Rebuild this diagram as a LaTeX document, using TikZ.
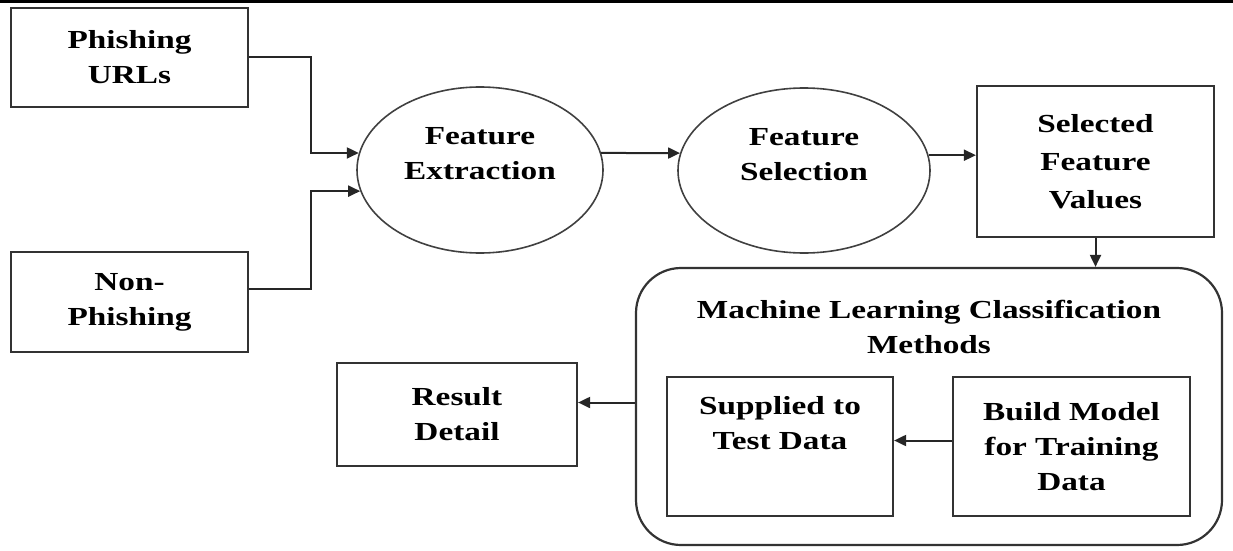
\documentclass[tikz,border=0pt]{standalone}
\usepackage{fontspec}
\setmainfont{Liberation Serif}[FakeStretch=1.28]
\usetikzlibrary{arrows.meta, shapes.geometric}

\begin{document}
\begin{tikzpicture}[
  x=1pt, y=1pt,
  every node/.style={font=\fontsize{26}{35}\selectfont\bfseries, align=center},
  box/.style={draw=black!80, line width=2.2pt, rectangle, inner sep=0pt},
  oval/.style={draw=black!75, line width=1.6pt, ellipse, inner sep=0pt, text depth=33pt},
  arr/.style={-{Triangle[length=12pt, width=11pt]}, line width=2pt, draw=black!85},
]
  \useasboundingbox (0,0) rectangle (1233,550);
  \fill[black] (0,547) rectangle (1233,550);

  % inputs
  \node[box, minimum width=237, minimum height=99] (phish) at (129.5, 492.5) {Phishing\\URLs};
  \node[box, minimum width=237, minimum height=100] (nonphish) at (129.5, 248) {Non-\\Phishing};

  % feature stages
  \node[oval, minimum width=246, minimum height=166] (extract) at (480, 380) {Feature\\Extraction};
  \node[oval, minimum width=252, minimum height=165] (select) at (804, 379.5) {Feature\\Selection};
  \node[box, minimum width=237, minimum height=151,
        font=\fontsize{26}{38}\selectfont\bfseries] (values) at (1095.5, 388.5) {Selected\\Feature\\Values};

  % classification block
  \node[box, rounded corners=45pt, minimum width=586, minimum height=277] (ml) at (929, 143.5) {};
  \node[anchor=north, inner sep=0pt] (mltitle) at (929, 250) {Machine Learning Classification\\Methods};
  \node[box, minimum width=226, minimum height=139, text height=72pt, text depth=67pt] (supplied) at (780, 103.5) {Supplied to\\Test Data};
  \node[box, minimum width=237, minimum height=139] (build) at (1071.5, 103.5) {Build Model\\for Training\\Data};

  \node[box, minimum width=240, minimum height=103] (result) at (457, 135.5) {Result\\Detail};

  % connectors
  \draw[arr] (phish.east) -- ++(62,0) |- (extract.172);
  \draw[arr] ([yshift=13]nonphish.east) -- ++(62,0) |- (extract.190);
  \draw[arr] (extract.8) -- (select.172);
  \draw[arr] (select.7) -- (select.7 -| values.west);
  \draw[arr] (values.south) -- (values.south |- ml.north);
  \draw[arr] ([yshift=4]ml.west) -- ([yshift=4]ml.west -| result.east);
  \draw[arr] ([yshift=6]build.west) -- ([yshift=6]build.west -| supplied.east);
\end{tikzpicture}
\end{document}
